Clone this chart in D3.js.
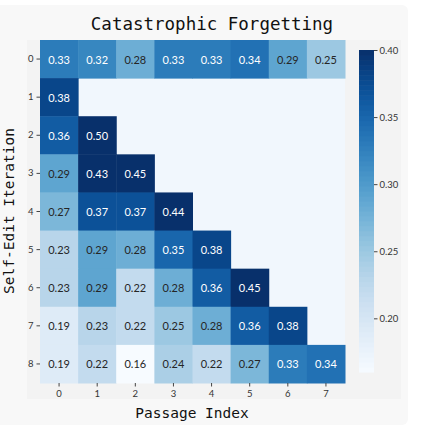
<!doctype html>
<html>
<head>
<meta charset="UTF-8">
<script src="https://d3js.org/d3.v7.min.js"></script>
<style>
  body { margin: 0; background: #fff; }
  text { font-family: Lato, "Open Sans", sans-serif; }
</style>
</head>
<body>
<svg id="chart" width="428" height="447"></svg>
<script>
// Heatmap values (row = self-edit iteration, col = passage index)
var passages = [0, 1, 2, 3, 4, 5, 6, 7];
var iterations = [0, 1, 2, 3, 4, 5, 6, 7, 8];
var row0 = [0.33, 0.32, 0.28, 0.33, 0.33, 0.34, 0.29, 0.25];
var row1 = [0.38];
var row2 = [0.36, 0.50];
var row3 = [0.29, 0.43, 0.45];
var row4 = [0.27, 0.37, 0.37, 0.44];
var row5 = [0.23, 0.29, 0.28, 0.35, 0.38];
var row6 = [0.23, 0.29, 0.22, 0.28, 0.36, 0.45];
var row7 = [0.19, 0.23, 0.22, 0.25, 0.28, 0.36, 0.38];
var row8 = [0.19, 0.22, 0.16, 0.24, 0.22, 0.27, 0.33, 0.34];
var rows = [row0, row1, row2, row3, row4, row5, row6, row7, row8];
var cbTicks = [0.20, 0.25, 0.30, 0.35, 0.40];
var vmin = 0.16, vmax = 0.40;

var svg = d3.select("#chart");

// backgrounds
svg.append("rect").attr("x", -10).attr("y", 5).attr("width", 418).attr("height", 420)
  .attr("rx", 6).attr("fill", "#f8f8f8");
svg.append("rect").attr("x", 27).attr("y", 40).attr("width", 374).attr("height", 359)
  .attr("fill", "#f3f3f3");

var x = d3.scaleBand().domain(passages).range([40, 345]);
var y = d3.scaleBand().domain(iterations).range([40, 383]);
var color = d3.scaleSequential(d3.interpolateBlues).domain([vmin, vmax]).clamp(true);

// masked area
svg.append("rect").attr("x", x.range()[0]).attr("y", y.range()[0])
  .attr("width", x.range()[1] - x.range()[0]).attr("height", y.range()[1] - y.range()[0])
  .attr("fill", "#f1f7fd");

var cells = [];
rows.forEach(function (r, i) {
  r.forEach(function (v, j) { cells.push({ row: i, col: j, v: v }); });
});

var g = svg.append("g");
g.selectAll("rect.cell").data(cells).enter().append("rect")
  .attr("class", "cell")
  .attr("x", d => x(d.col))
  .attr("y", d => y(d.row))
  .attr("width", x.bandwidth() + 0.5)
  .attr("height", y.bandwidth() + 0.5)
  .attr("fill", d => color(d.v));

g.selectAll("text.val").data(cells).enter().append("text")
  .attr("class", "val")
  .attr("x", d => x(d.col) + x.bandwidth() / 2)
  .attr("y", d => y(d.row) + y.bandwidth() / 2)
  .attr("text-anchor", "middle")
  .attr("dominant-baseline", "central")
  .attr("font-size", 11)
  .attr("fill", d => d.v > 0.305 ? "#ffffff" : "#262626")
  .text(d => d.v.toFixed(2));

// axes
var xAxis = svg.append("g").attr("transform", "translate(0," + y.range()[1] + ")")
  .call(d3.axisBottom(x).tickSize(3.5).tickPadding(4));
var yAxis = svg.append("g").attr("transform", "translate(" + x.range()[0] + ",0)")
  .call(d3.axisLeft(y).tickSize(3.5).tickPadding(3));
[xAxis, yAxis].forEach(function (a) {
  a.select(".domain").remove();
  a.selectAll(".tick line").attr("stroke", "#444");
  a.selectAll(".tick text").attr("font-size", 9.5).attr("fill", "#333")
    .style("font-family", "Lato, sans-serif");
});

// colorbar
var cbX = 359, cbW = 15;
var cy = d3.scaleLinear().domain([vmin, vmax]).range([372, 50]);
var steps = d3.range(0, 64);
svg.append("g").selectAll("rect").data(steps).enter().append("rect")
  .attr("x", cbX)
  .attr("width", cbW)
  .attr("y", s => cy(vmin + (s + 1) * (vmax - vmin) / 64))
  .attr("height", (cy(vmin) - cy(vmax)) / 64 + 0.6)
  .attr("fill", s => color(vmin + (s + 0.5) * (vmax - vmin) / 64));
var cbAxis = svg.append("g").attr("transform", "translate(" + (cbX + cbW) + ",0)")
  .call(d3.axisRight(cy).tickValues(cbTicks).tickFormat(d3.format(".2f")).tickSize(3.5).tickPadding(2));
cbAxis.select(".domain").remove();
cbAxis.selectAll(".tick line").attr("stroke", "#444");
cbAxis.selectAll(".tick text").attr("font-size", 9.5).attr("fill", "#333")
  .style("font-family", "Lato, sans-serif");

// titles
svg.append("text").attr("x", 212).attr("y", 30).attr("text-anchor", "middle")
  .style("font-family", "'DejaVu Sans Mono', monospace").attr("font-size", 17.5)
  .attr("fill", "#111").text("Catastrophic Forgetting");
svg.append("text").attr("x", 192).attr("y", 418).attr("text-anchor", "middle")
  .style("font-family", "'DejaVu Sans Mono', monospace").attr("font-size", 14.5)
  .attr("fill", "#111").text("Passage Index");
svg.append("text").attr("transform", "translate(14,211) rotate(-90)").attr("text-anchor", "middle")
  .style("font-family", "'DejaVu Sans Mono', monospace").attr("font-size", 14.5)
  .attr("fill", "#111").text("Self-Edit Iteration");
</script>
</body>
</html>
